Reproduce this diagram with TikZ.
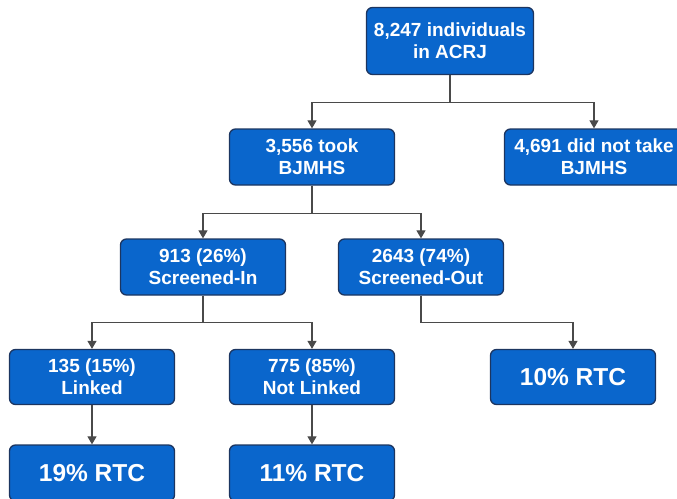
\documentclass[tikz,border=0pt]{standalone}
\usepackage{fontspec}
\setmainfont{Liberation Sans}
\usetikzlibrary{arrows.meta}

\definecolor{boxblue}{HTML}{0A66CC}
\definecolor{boxedge}{HTML}{1C3560}
\definecolor{linkgray}{HTML}{4A4A4A}

\begin{document}
\begin{tikzpicture}[x = 1pt, y = -1pt,
  box/.style = {draw = boxedge, line width = 1.3pt, fill = boxblue, rounded corners = 6pt,
    text = white, align = center, inner sep = 0pt, minimum width = 165pt, minimum height = 56pt,
    font = \bfseries\fontsize{19}{22}\selectfont},
  bigbox/.style = {box, font = \bfseries\fontsize{24.5}{28}\selectfont},
  link/.style = {draw = linkgray, line width = 1.2pt, -{Triangle[length = 8pt, width = 9pt]}}]
\useasboundingbox (0, 0) rectangle (677, 498);
% Boxes
\node[box, minimum width = 167pt, minimum height = 67pt] (all) at (450, 41) {8,247 individuals\\in ACRJ};
\node[box] (took) at (312, 157) {3,556 took\\BJMHS};
\node[box, minimum width = 179pt] (nottook) at (594, 157) {4,691 did not take\\BJMHS};
\node[box] (scrin) at (203, 267) {913 (26\%)\\Screened-In};
\node[box] (scrout) at (421, 267) {2643 (74\%)\\Screened-Out};
\node[box, minimum height = 55pt] (linked) at (92, 377) {135 (15\%)\\Linked};
\node[box, minimum height = 55pt] (notlinked) at (312, 377) {775 (85\%)\\Not Linked};
\node[bigbox, minimum height = 55pt] (rtcout) at (573, 377) {10\% RTC};
\node[bigbox] (rtclinked) at (92, 473) {19\% RTC};
\node[bigbox] (rtcnotlinked) at (312, 473) {11\% RTC};
% Connectors
\draw[link] (all.south) -- ++(0, 27) -| (took.north);
\draw[link] (all.south) -- ++(0, 27) -| (nottook.north);
\draw[link] (took.south) -- ++(0, 28) -| (scrin.north);
\draw[link] (took.south) -- ++(0, 28) -| (scrout.north);
\draw[link] (scrin.south) -- ++(0, 27) -| (linked.north);
\draw[link] (scrin.south) -- ++(0, 27) -| (notlinked.north);
\draw[link] (scrout.south) -- ++(0, 27) -| (rtcout.north);
\draw[link] (linked.south) -- (rtclinked.north);
\draw[link] (notlinked.south) -- (rtcnotlinked.north);
\end{tikzpicture}
\end{document}
